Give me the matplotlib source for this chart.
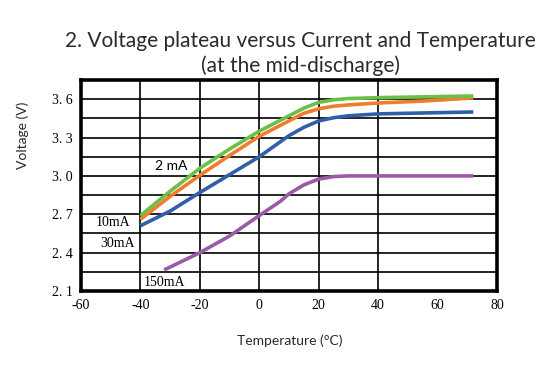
import matplotlib

matplotlib.use("Agg")
import matplotlib.pyplot as plt

# temperature (°C) and mid-discharge voltage (V)
temp_main = [-40, -30, -20, -10, 0, 10, 15, 20, 25, 30, 40, 55, 72]
v_2ma = [2.69, 2.88, 3.06, 3.21, 3.35, 3.47, 3.53, 3.575, 3.595, 3.605, 3.612, 3.618, 3.625]
v_10ma = [2.66, 2.84, 3.005, 3.16, 3.31, 3.43, 3.49, 3.525, 3.545, 3.555, 3.57, 3.585, 3.61]
v_30ma = [2.61, 2.725, 2.87, 3.01, 3.15, 3.315, 3.38, 3.43, 3.455, 3.47, 3.485, 3.492, 3.50]

temp_150 = [-32, -20, -10, 0, 7, 10, 15, 20, 25, 30, 40, 55, 72]
v_150ma = [2.265, 2.40, 2.53, 2.69, 2.80, 2.86, 2.93, 2.975, 2.995, 3.0, 3.0, 3.0, 3.0]

x_ticks = [-60, -40, -20, 0, 20, 40, 60, 80]
y_ticks = [2.1, 2.4, 2.7, 3.0, 3.3, 3.6]
y_tick_labels = ["2. 1", "2. 4", "2. 7", "3. 0", "3. 3", "3. 6"]
x_grid = [-40, -20, 0, 20, 40]
y_grid = [2.25, 2.4, 2.55, 2.7, 2.85, 3.0, 3.15, 3.3, 3.45, 3.6]

fig = plt.figure(figsize=(5.6, 3.82), dpi=100)
ax = fig.add_axes([0.1446, 0.2382, 0.743, 0.5524])

for x in x_grid:
    ax.axvline(x, color="black", lw=1.2, zorder=1)
for y in y_grid:
    ax.axhline(y, color="black", lw=1.2, zorder=1)

ax.plot(temp_main, v_2ma, color="#6cc04a", lw=2.6, zorder=4, solid_capstyle="butt")
ax.plot(temp_main, v_10ma, color="#f07d2e", lw=2.6, zorder=3, solid_capstyle="butt")
ax.plot(temp_main, v_30ma, color="#2f5fa8", lw=2.6, zorder=3, solid_capstyle="butt")
ax.plot(temp_150, v_150ma, color="#9b5aa8", lw=2.6, zorder=3, solid_capstyle="butt")

ax.set_xlim(-60, 80)
ax.set_ylim(2.1, 3.75)
serif = "Liberation Serif"
ax.set_xticks(x_ticks)
ax.set_xticklabels([str(t) for t in x_ticks], fontfamily=serif, fontsize=10)
ax.set_yticks(y_ticks)
ax.set_yticklabels(y_tick_labels, fontfamily=serif, fontsize=10)
ax.tick_params(length=0, pad=6)
for s in ax.spines.values():
    s.set_linewidth(2.6)
    s.set_zorder(5)

ax.text(-35, 3.08, "2 mA", fontsize=10, fontfamily="Lato", ha="left", va="center")
ax.text(-55, 2.635, "10mA", fontfamily=serif, fontsize=10, ha="left", va="center")
ax.text(-53.5, 2.47, "30mA", fontfamily=serif, fontsize=10, ha="left", va="center")
ax.text(-39, 2.17, "150mA", fontfamily=serif, fontsize=10, ha="left", va="center")

title_kw = dict(ha="center", va="center", fontsize=15, color="#2a2a2a",
                fontfamily="Lato")
fig.text(0.537, 0.893, "2. Voltage plateau versus Current and Temperature", **title_kw)
fig.text(0.537, 0.828, "(at the mid-discharge)", **title_kw)
fig.text(0.04, 0.647, "Voltage (V)", rotation=90, ha="center", va="center",
         fontsize=10, fontfamily="Lato", color="#2a2a2a")
fig.text(0.518, 0.107, "Temperature (\u00b0C)", ha="center", va="center",
         fontsize=10, fontfamily="Lato", color="#2a2a2a")

fig.savefig("out.png", dpi=100)
